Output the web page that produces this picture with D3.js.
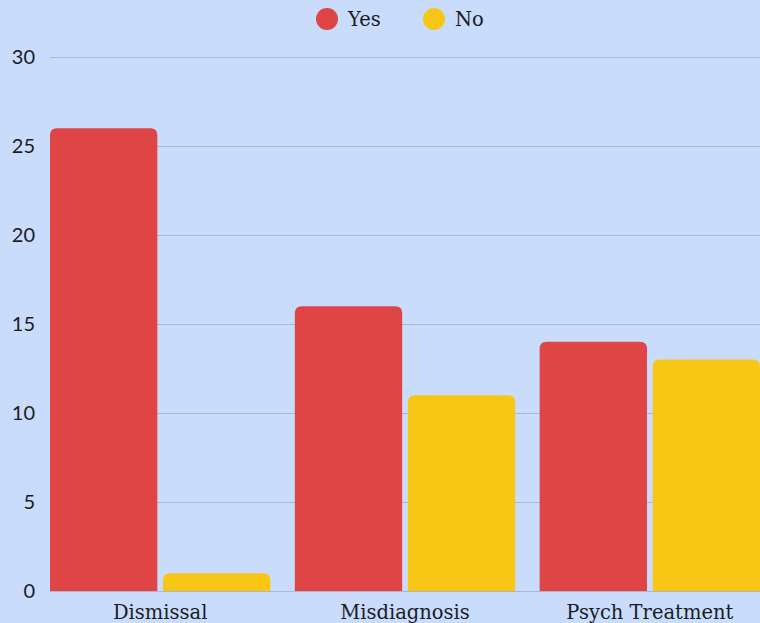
<!DOCTYPE html>
<html lang="en">
<head>
<meta charset="UTF-8">
<title>Yes / No</title>
<script src="https://d3js.org/d3.v7.min.js"></script>
<style>
  body { margin: 0; background: #c9dcfb; }
  svg { display: block; }
</style>
</head>
<body>
<script>
var categories = ["Dismissal", "Misdiagnosis", "Psych Treatment"];
var seriesNames = ["Yes", "No"];
var yesValues = [26, 16, 14];
var noValues = [1, 11, 13];
var yTicks = [0, 5, 10, 15, 20, 25, 30];

var w = 760, h = 623;
var colors = { "Yes": "#e04545", "No": "#f8c715" };

var svg = d3.select("body").append("svg")
  .attr("width", w)
  .attr("height", h);

svg.append("rect").attr("width", w).attr("height", h).attr("fill", "#c9dcfb");

var x0 = d3.scaleBand().domain(categories).range([50, 760]).paddingInner(0.1).paddingOuter(0);
var x1 = d3.scaleBand().domain(seriesNames).range([0, x0.bandwidth()]).padding(0.05).paddingOuter(0);
var y = d3.scaleLinear().domain([0, 30]).range([591, 57]);

// gridlines
svg.append("g")
  .selectAll("line")
  .data(yTicks)
  .enter().append("line")
  .attr("x1", 50).attr("x2", w)
  .attr("y1", function(d){ return y(d) + 0.5; })
  .attr("y2", function(d){ return y(d) + 0.5; })
  .attr("stroke", "#a7b8d6")
  .attr("stroke-width", 1);

// y tick labels
var yAxis = d3.axisLeft(y).tickValues(yTicks).tickSize(0).tickPadding(0);
var gy = svg.append("g").attr("transform", "translate(35,0)").call(yAxis);
gy.select(".domain").remove();
gy.selectAll("text")
  .attr("font-family", "Lato, 'Open Sans', sans-serif")
  .attr("font-size", 20)
  .attr("fill", "#1b1b24");

var data = categories.map(function(c, i){
  return { cat: c, vals: [ { s: "Yes", v: yesValues[i] }, { s: "No", v: noValues[i] } ] };
});

function topRounded(x, yTop, bw, bh, r){
  r = Math.min(r, bh, bw / 2);
  return "M" + x + "," + (yTop + bh) +
    "V" + (yTop + r) +
    "Q" + x + "," + yTop + " " + (x + r) + "," + yTop +
    "H" + (x + bw - r) +
    "Q" + (x + bw) + "," + yTop + " " + (x + bw) + "," + (yTop + r) +
    "V" + (yTop + bh) + "Z";
}

var groups = svg.append("g").selectAll("g")
  .data(data)
  .enter().append("g")
  .attr("transform", function(d){ return "translate(" + x0(d.cat) + ",0)"; });

groups.selectAll("path")
  .data(function(d){ return d.vals; })
  .enter().append("path")
  .attr("d", function(d){
    return topRounded(x1(d.s), y(d.v), x1.bandwidth(), y(0) - y(d.v), 7);
  })
  .attr("fill", function(d){ return colors[d.s]; });

// x labels
var xAxis = d3.axisBottom(x0).tickSize(0).tickPadding(0);
var gx = svg.append("g").attr("transform", "translate(0,605)").call(xAxis);
gx.select(".domain").remove();
gx.selectAll("text")
  .attr("font-family", "'DejaVu Serif', 'Liberation Serif', serif")
  .attr("font-size", 19.5)
  .attr("fill", "#1b1b24");

// legend
var legendX = [327, 434];
var legend = svg.append("g").selectAll("g")
  .data(seriesNames)
  .enter().append("g")
  .attr("transform", function(d, i){ return "translate(" + legendX[i] + ",19)"; });
legend.append("circle").attr("r", 11).attr("fill", function(d){ return colors[d]; });
legend.append("text")
  .attr("x", 21).attr("y", 7)
  .attr("font-family", "'DejaVu Serif', 'Liberation Serif', serif")
  .attr("font-size", 19.5)
  .attr("fill", "#1b1b24")
  .text(function(d){ return d; });
</script>
</body>
</html>
